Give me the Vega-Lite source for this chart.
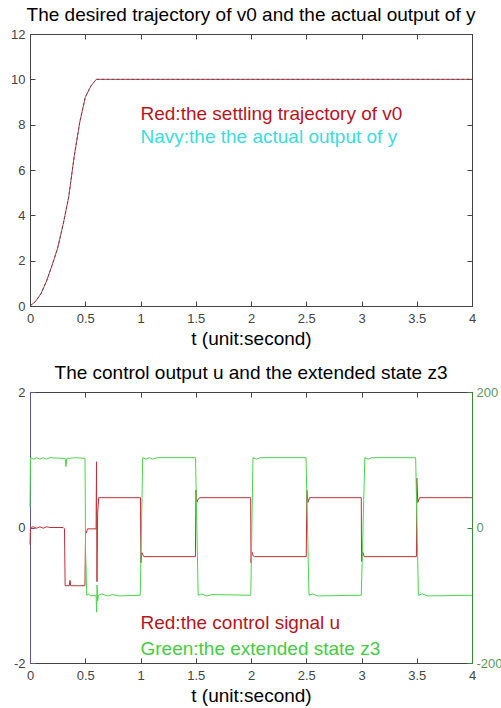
{
  "$schema": "https://vega.github.io/schema/vega-lite/v6.json",
  "padding": {"left": 10, "top": 5, "right": 0, "bottom": 0},
  "background": "white",
  "config": {
    "font": "Liberation Sans",
    "view": {"stroke": "#444", "strokeWidth": 1},
    "axis": {
      "labelFont": "Liberation Sans", "titleFont": "Liberation Sans",
      "labelFontSize": 13, "labelColor": "#444", "domainColor": "#444", "tickColor": "#444",
      "grid": false, "titleFontWeight": "normal", "titleFontSize": 19, "titleColor": "black",
      "labelFlush": false, "labelOverlap": false
    },
    "title": {"font": "Liberation Sans", "fontSize": 19, "fontWeight": "normal", "color": "black"}
  },
  "datasets": {
    "traj": [
      {"t": 0, "v0": 0, "y": 0},
      {"t": 0.05, "v0": 0.2, "y": 0.2},
      {"t": 0.1, "v0": 0.55, "y": 0.55},
      {"t": 0.15, "v0": 1.1, "y": 1.1},
      {"t": 0.2, "v0": 1.8, "y": 1.8},
      {"t": 0.25, "v0": 2.55, "y": 2.55},
      {"t": 0.3, "v0": 3.6, "y": 3.6},
      {"t": 0.35, "v0": 4.8, "y": 4.8},
      {"t": 0.4, "v0": 6.6, "y": 6.6},
      {"t": 0.45, "v0": 8.1, "y": 8.1},
      {"t": 0.5, "v0": 9.2, "y": 9.2},
      {"t": 0.55, "v0": 9.7, "y": 9.7},
      {"t": 0.6, "v0": 10, "y": 10},
      {"t": 1, "v0": 10, "y": 10},
      {"t": 2, "v0": 10, "y": 10},
      {"t": 3, "v0": 10, "y": 10},
      {"t": 4, "v0": 10, "y": 10}
    ],
    "u": [
      {"t": 0, "u": -0.25}, {"t": 0.004, "u": 0}, {"t": 0.03, "u": 0.01}, {"t": 0.06, "u": -0.01},
      {"t": 0.09, "u": 0.01}, {"t": 0.12, "u": -0.01}, {"t": 0.15, "u": 0.01}, {"t": 0.18, "u": 0},
      {"t": 0.3, "u": 0}, {"t": 0.312, "u": -0.02}, {"t": 0.318, "u": -0.86}, {"t": 0.355, "u": -0.86},
      {"t": 0.362, "u": -0.78}, {"t": 0.368, "u": -0.86}, {"t": 0.497, "u": -0.86}, {"t": 0.503, "u": -0.05},
      {"t": 0.51, "u": -0.08}, {"t": 0.52, "u": -0.02}, {"t": 0.598, "u": -0.02}, {"t": 0.602, "u": 0.97},
      {"t": 0.606, "u": -0.8}, {"t": 0.612, "u": 0.2}, {"t": 0.622, "u": 0.44}, {"t": 1.0, "u": 0.44},
      {"t": 1.003, "u": -0.52}, {"t": 1.012, "u": -0.37}, {"t": 1.03, "u": -0.43}, {"t": 1.497, "u": -0.43},
      {"t": 1.502, "u": 0.55}, {"t": 1.51, "u": 0.37}, {"t": 1.525, "u": 0.43}, {"t": 1.54, "u": 0.44},
      {"t": 1.997, "u": 0.44}, {"t": 2.0, "u": -0.52}, {"t": 2.008, "u": -0.36}, {"t": 2.02, "u": -0.42},
      {"t": 2.03, "u": -0.43}, {"t": 2.5, "u": -0.43}, {"t": 2.505, "u": 0.55}, {"t": 2.515, "u": 0.37},
      {"t": 2.53, "u": 0.44}, {"t": 2.998, "u": 0.44}, {"t": 3.0, "u": -0.5}, {"t": 3.01, "u": -0.36},
      {"t": 3.025, "u": -0.43}, {"t": 3.497, "u": -0.43}, {"t": 3.5, "u": 0.73}, {"t": 3.51, "u": 0.37},
      {"t": 3.525, "u": 0.44}, {"t": 4, "u": 0.44}
    ],
    "z3": [
      {"t": 0, "z": 30}, {"t": 0.004, "z": 103}, {"t": 0.03, "z": 101}, {"t": 0.06, "z": 103},
      {"t": 0.09, "z": 101}, {"t": 0.12, "z": 103}, {"t": 0.15, "z": 101}, {"t": 0.18, "z": 103},
      {"t": 0.3, "z": 102}, {"t": 0.318, "z": 102}, {"t": 0.325, "z": 90}, {"t": 0.333, "z": 102},
      {"t": 0.42, "z": 103}, {"t": 0.498, "z": 102}, {"t": 0.503, "z": -40}, {"t": 0.508, "z": -60},
      {"t": 0.513, "z": -100}, {"t": 0.53, "z": -98}, {"t": 0.55, "z": -101}, {"t": 0.598, "z": -100},
      {"t": 0.603, "z": -125}, {"t": 0.607, "z": -85}, {"t": 0.612, "z": -108}, {"t": 0.62, "z": -100},
      {"t": 0.65, "z": -98}, {"t": 0.7, "z": -101}, {"t": 0.75, "z": -99}, {"t": 0.8, "z": -101},
      {"t": 0.998, "z": -100}, {"t": 1.02, "z": 103}, {"t": 1.05, "z": 101}, {"t": 1.08, "z": 103},
      {"t": 1.11, "z": 101}, {"t": 1.15, "z": 103}, {"t": 1.498, "z": 103}, {"t": 1.522, "z": -100},
      {"t": 1.55, "z": -98}, {"t": 1.6, "z": -101}, {"t": 1.65, "z": -99}, {"t": 1.998, "z": -100},
      {"t": 2.018, "z": 103}, {"t": 2.05, "z": 101}, {"t": 2.08, "z": 103}, {"t": 2.498, "z": 103},
      {"t": 2.525, "z": -100}, {"t": 2.56, "z": -98}, {"t": 2.6, "z": -101}, {"t": 2.998, "z": -100},
      {"t": 3.03, "z": 103}, {"t": 3.06, "z": 101}, {"t": 3.09, "z": 103}, {"t": 3.49, "z": 103},
      {"t": 3.515, "z": -100}, {"t": 3.55, "z": -98}, {"t": 3.6, "z": -101}, {"t": 4, "z": -100}
    ]
  },
  "spacing": 86,
  "bounds": "flush",
  "vconcat": [
    {
      "width": 442, "height": 272,
      "title": {"text": "The desired trajectory of v0 and the actual output of y", "offset": 3},
      "layer": [
        {
          "data": {"name": "traj"},
          "mark": {"type": "line", "color": "#d04040", "strokeWidth": 1},
          "encoding": {
            "x": {"field": "t", "type": "quantitative", "scale": {"domain": [0, 4], "nice": false},
                  "axis": {"orient": "bottom", "title": "t (unit:second)", "values": [0, 0.5, 1, 1.5, 2, 2.5, 3, 3.5, 4],
                           "labelExpr": "'' + datum.value", "tickSize": -5, "labelPadding": 11, "titlePadding": 4}},
            "y": {"field": "v0", "type": "quantitative", "scale": {"domain": [0, 12], "nice": false},
                  "axis": {"orient": "left", "title": null, "values": [0, 2, 4, 6, 8, 10, 12],
                           "labelExpr": "'' + datum.value", "tickSize": -5, "labelPadding": 10}}
          }
        },
        {
          "data": {"name": "traj"},
          "mark": {"type": "line", "color": "#404060", "strokeWidth": 1, "strokeDash": [3, 2], "opacity": 0.8},
          "encoding": {
            "x": {"field": "t", "type": "quantitative",
                  "axis": {"orient": "top", "title": null, "labels": false, "values": [0, 0.5, 1, 1.5, 2, 2.5, 3, 3.5, 4], "tickSize": -5}},
            "y": {"field": "y", "type": "quantitative",
                  "axis": {"orient": "right", "title": null, "labels": false, "values": [0, 2, 4, 6, 8, 10, 12], "tickSize": -5}}
          }
        },
        {
          "data": {"values": [{}]},
          "mark": {"type": "text", "text": "Red:the settling trajectory of v0", "align": "left", "baseline": "middle", "fontSize": 19, "color": "#b8141e"},
          "encoding": {
            "x": {"datum": 1.0, "type": "quantitative", "axis": null},
            "y": {"datum": 8.47, "type": "quantitative", "axis": null}
          }
        },
        {
          "data": {"values": [{}]},
          "mark": {"type": "text", "text": "Navy:the the actual output of y", "align": "left", "baseline": "middle", "fontSize": 19, "color": "#3cdcdc"},
          "encoding": {
            "x": {"datum": 1.0, "type": "quantitative", "axis": null},
            "y": {"datum": 7.47, "type": "quantitative", "axis": null}
          }
        }
      ],
      "resolve": {"axis": {"x": "independent", "y": "independent"}}
    },
    {
      "width": 442, "height": 271,
      "title": {"text": "The control output u and the extended state z3", "offset": 3},
      "layer": [
        {
          "data": {"name": "u"},
          "mark": {"type": "line", "color": "#c0303a", "strokeWidth": 1},
          "encoding": {
            "x": {"field": "t", "type": "quantitative", "scale": {"domain": [0, 4], "nice": false},
                  "axis": {"orient": "bottom", "title": "t (unit:second)", "values": [0, 0.5, 1, 1.5, 2, 2.5, 3, 3.5, 4],
                           "labelExpr": "'' + datum.value", "tickSize": -5, "labelPadding": 11, "titlePadding": 4}},
            "y": {"field": "u", "type": "quantitative", "scale": {"domain": [-2, 2], "nice": false},
                  "axis": {"orient": "left", "title": null, "values": [-2, 0, 2], "labelExpr": "'' + datum.value",
                           "tickSize": -5, "labelPadding": 10, "domainColor": "#5a5a8c", "tickColor": "#5a5a8c"}}
          }
        },
        {
          "data": {"name": "z3"},
          "mark": {"type": "line", "color": "#4cd44c", "strokeWidth": 1},
          "encoding": {
            "x": {"field": "t", "type": "quantitative",
                  "axis": {"orient": "top", "title": null, "labels": false, "values": [0, 0.5, 1, 1.5, 2, 2.5, 3, 3.5, 4], "tickSize": -5}},
            "y": {"field": "z", "type": "quantitative", "scale": {"domain": [-200, 200], "nice": false},
                  "axis": {"orient": "right", "title": null, "values": [-200, 0, 200], "labelExpr": "'' + datum.value",
                           "tickSize": -5, "labelPadding": 9, "domainColor": "#3a8a3a", "tickColor": "#3a8a3a", "labelColor": "#5a9a5a"}}
          }
        },
        {
          "data": {"values": [{}]},
          "mark": {"type": "text", "text": "Red:the control signal u", "align": "left", "baseline": "middle", "fontSize": 19, "color": "#b8141e"},
          "encoding": {
            "x": {"datum": 1.0, "type": "quantitative", "axis": null},
            "y": {"datum": -1.405, "type": "quantitative", "axis": null, "scale": {"domain": [-2, 2], "nice": false}}
          }
        },
        {
          "data": {"values": [{}]},
          "mark": {"type": "text", "text": "Green:the extended state z3", "align": "left", "baseline": "middle", "fontSize": 19, "color": "#44cc44"},
          "encoding": {
            "x": {"datum": 1.0, "type": "quantitative", "axis": null},
            "y": {"datum": -1.8, "type": "quantitative", "axis": null, "scale": {"domain": [-2, 2], "nice": false}}
          }
        }
      ],
      "resolve": {"scale": {"y": "independent"}, "axis": {"x": "independent", "y": "independent"}}
    }
  ]
}
